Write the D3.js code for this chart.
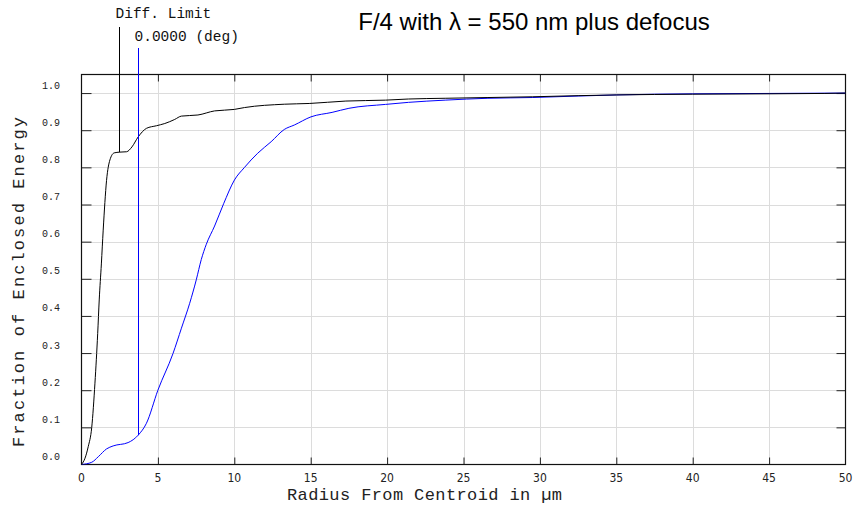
<!DOCTYPE html>
<html><head><meta charset="utf-8">
<script src="https://cdn.jsdelivr.net/npm/d3@7"></script>
<style>
html,body{margin:0;padding:0;background:#fff;}
svg{display:block;}
</style>
</head><body>
<svg id="chart" width="853" height="510"></svg>
<script>
// ---- data ----
const titleText = "F/4 with \u03bb = 550 nm plus defocus";
const xLabel = "Radius From Centroid in \u00b5m";
const yLabel = "Fraction of Enclosed Energy";
const xTicks = [0, 5, 10, 15, 20, 25, 30, 35, 40, 45, 50];
const yTicks = [0.0, 0.1, 0.2, 0.3, 0.4, 0.5, 0.6, 0.7, 0.8, 0.9, 1.0];

const diffRadius = [0, 0.23, 0.44, 0.67, 0.88, 1.06, 1.16, 1.3, 1.42, 1.64, 1.86, 2.14, 2.5, 2.95, 3.3, 3.71, 4.25, 4.9, 5.45, 6.1, 6.54, 7.62, 8.71, 10.0, 10.67, 13.27, 14.9, 17.3, 19.9, 21.4, 23.8, 26.6, 29.5, 32.5, 35, 40, 45, 48.6, 50];
const diffEnergy = [0, 0.017, 0.048, 0.10, 0.219, 0.353, 0.443, 0.54, 0.631, 0.765, 0.82, 0.839, 0.841, 0.842, 0.855, 0.882, 0.905, 0.912, 0.918, 0.929, 0.938, 0.941, 0.952, 0.956, 0.961, 0.970, 0.972, 0.9785, 0.981, 0.984, 0.986, 0.988, 0.990, 0.993, 0.995, 0.997, 0.998, 0.999, 1.0];

const fieldRadius = [0, 0.67, 1.1, 1.64, 2.07, 3.05, 3.71, 4.25, 5.0, 5.99, 6.54, 7.08, 7.51, 7.84, 8.17, 8.71, 9.3, 10.01, 10.67, 11.53, 12.41, 13.27, 13.93, 15.02, 16.4, 17.5, 19.9, 21.4, 23.8, 26.6, 29.5, 32.5, 35, 40, 45, 50];
const fieldEnergy = [0, 0.006, 0.021, 0.042, 0.050, 0.059, 0.079, 0.111, 0.2, 0.299, 0.367, 0.434, 0.497, 0.552, 0.593, 0.642, 0.702, 0.766, 0.80, 0.838, 0.869, 0.902, 0.914, 0.936, 0.948, 0.959, 0.9695, 0.975, 0.981, 0.986, 0.988, 0.992, 0.995, 0.998, 0.999, 1.0];

const diffLabel = "Diff. Limit";
const fieldLabel = "0.0000 (deg)";
const diffMarkerX = 2.47;
const fieldMarkerX = 3.71;

// ---- layout ----
const svg = d3.select("#chart");
const L = 81.5, R = 845.5, T = 74.5, B = 464.5;
const x = d3.scaleLinear().domain([0, 50]).range([L, R]);
const y = d3.scaleLinear().domain([0, 1.05]).range([B, T]);
const mono = "'Liberation Mono','DejaVu Sans Mono',monospace";
const narrow = "'Liberation Sans Narrow','DejaVu Sans Condensed','DejaVu Sans',sans-serif";

// grid
const grid = svg.append("g").attr("stroke", "#dcdcdc").attr("stroke-width", 1);
grid.selectAll("line.v").data(xTicks.filter(d => d > 0 && d < 50)).enter().append("line")
  .attr("x1", d => Math.round(x(d)) + 0.5).attr("x2", d => Math.round(x(d)) + 0.5)
  .attr("y1", T).attr("y2", B);
grid.selectAll("line.h").data(yTicks.filter(d => d > 0)).enter().append("line")
  .attr("y1", d => Math.round(y(d)) + 0.5).attr("y2", d => Math.round(y(d)) + 0.5)
  .attr("x1", L).attr("x2", R);

// axes (inner ticks)
const axB = d3.axisTop(x).tickValues(xTicks.filter(d => d > 0 && d < 50)).tickSize(7).tickFormat("");
const axT = d3.axisBottom(x).tickValues(xTicks.filter(d => d > 0 && d < 50)).tickSize(7).tickFormat("");
const axL = d3.axisRight(y).tickValues(yTicks.filter(d => d > 0)).tickSize(10).tickFormat("");
const axR = d3.axisLeft(y).tickValues(yTicks.filter(d => d > 0)).tickSize(9).tickFormat("");
[[axB, `translate(0,${B})`], [axT, `translate(0,${T})`], [axL, `translate(${L},0)`], [axR, `translate(${R},0)`]].forEach(([a, tr]) => {
  const g = svg.append("g").attr("transform", tr).call(a);
  g.select(".domain").remove();
  g.selectAll("line").attr("stroke", "#222");
});

// frame
svg.append("rect").attr("x", L).attr("y", T).attr("width", R - L).attr("height", B - T)
  .attr("fill", "none").attr("stroke", "#111").attr("stroke-width", 1.2);

// tick labels
svg.append("g").selectAll("text").data(xTicks).enter().append("text")
  .attr("x", d => x(d)).attr("y", 482)
  .attr("text-anchor", "middle").attr("font-family", narrow).attr("font-size", 12)
  .attr("fill", "#222").text(d => d);
svg.append("g").selectAll("text").data(yTicks).enter().append("text")
  .attr("x", 60).attr("y", d => y(d) - 4.5)
  .attr("text-anchor", "end").attr("font-family", mono).attr("font-size", 10)
  .attr("fill", "#222").text(d => d.toFixed(1));

// axis titles
svg.append("text").attr("x", 424.5).attr("y", 500).attr("text-anchor", "middle")
  .attr("font-family", mono).attr("font-size", 17).attr("fill", "#222")
  .attr("textLength", 275).attr("lengthAdjust", "spacing").text(xLabel);
svg.append("text").attr("transform", "translate(24,282) rotate(-90)").attr("text-anchor", "middle")
  .attr("font-family", mono).attr("font-size", 17).attr("fill", "#222")
  .attr("textLength", 330).attr("lengthAdjust", "spacing").text(yLabel);

// title
svg.append("text").attr("x", 534).attr("y", 30).attr("text-anchor", "middle")
  .attr("font-family", "'Liberation Sans',Arial,sans-serif").attr("font-size", 24)
  .attr("fill", "#000").text(titleText);

// curves
const line = d3.line().x(d => x(d[0])).y(d => y(d[1])).curve(d3.curveMonotoneX);
svg.append("defs").append("clipPath").attr("id", "c").append("rect")
  .attr("x", L).attr("y", T - 1).attr("width", R - L).attr("height", B - T + 1);
svg.append("path").datum(d3.zip(fieldRadius, fieldEnergy)).attr("d", line)
  .attr("fill", "none").attr("stroke", "#0000ff").attr("stroke-width", 1).attr("clip-path", "url(#c)");
svg.append("path").datum(d3.zip(diffRadius, diffEnergy)).attr("d", line)
  .attr("fill", "none").attr("stroke", "#000").attr("stroke-width", 1).attr("clip-path", "url(#c)");

// marker lines & labels
const interp = (xs, ys, v) => { const i = d3.bisectLeft(xs, v); if (i <= 0) return ys[0]; const t = (v - xs[i-1]) / (xs[i] - xs[i-1]); return ys[i-1] + t * (ys[i] - ys[i-1]); };
const dx = Math.round(x(diffMarkerX)) + 0.5, fx = Math.round(x(fieldMarkerX)) + 0.5;
svg.append("line").attr("x1", dx).attr("x2", dx).attr("y1", 27).attr("y2", y(interp(diffRadius, diffEnergy, diffMarkerX)))
  .attr("stroke", "#000").attr("stroke-width", 1);
svg.append("line").attr("x1", fx).attr("x2", fx).attr("y1", 48).attr("y2", y(interp(fieldRadius, fieldEnergy, fieldMarkerX)))
  .attr("stroke", "#0000ff").attr("stroke-width", 1);
svg.append("text").attr("x", dx - 4).attr("y", 18).attr("font-family", mono).attr("font-size", 14.5)
  .attr("fill", "#111").text(diffLabel);
svg.append("text").attr("x", fx - 4).attr("y", 40.5).attr("font-family", mono).attr("font-size", 14.5)
  .attr("fill", "#111").text(fieldLabel);
</script>
</body></html>
